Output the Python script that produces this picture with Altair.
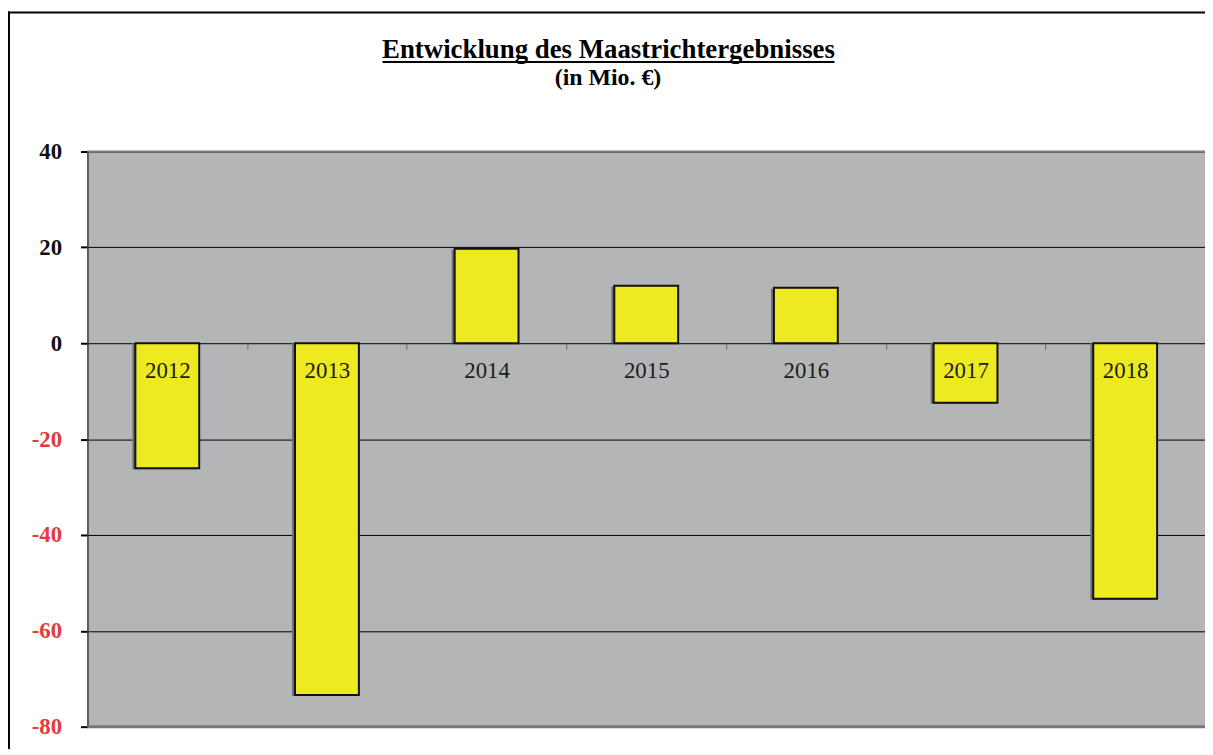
import altair as alt
import pandas as pd

years = ["2012", "2013", "2014", "2015", "2016", "2017", "2018"]
values = [-26.1, -73.4, 19.7, 12.0, 11.6, -12.4, -53.3]
y_ticks = [40, 20, 0, -20, -40, -60, -80]
title_text = "Entwicklung des Maastrichtergebnisses"
subtitle_text = "(in Mio. €)"

df = pd.DataFrame({"Jahr": years, "Wert": values})
one = pd.DataFrame({"k": [0]})

W, H = 1125, 579
FONT = "Liberation Serif"
step = W / 7.0

x_enc = alt.X(
    "Jahr:N",
    sort=years,
    scale=alt.Scale(paddingInner=0.6, paddingOuter=0.3),
    axis=alt.Axis(
        title=None, orient="bottom", offset=-386, domain=False,
        ticks=True, tickSize=6, tickColor="#666666", tickWidth=1,
        tickOffset=step / 2, labelOffset=-step / 2,
        labelAngle=0, labelFont=FONT, labelFontSize=23, labelColor="#1c1c1c",
        labelPadding=10, labelBaseline="top", zindex=1, grid=False,
    ),
)
y_enc = alt.Y(
    "Wert:Q",
    scale=alt.Scale(domain=[-80, 40], nice=False, zero=False),
    axis=alt.Axis(
        title=None, values=y_ticks, grid=True, gridColor="black", gridWidth=1,
        domain=True, domainColor="#3a3a3a", domainWidth=1.5,
        tickSize=7, tickColor="black", tickWidth=2,
        labelFont=FONT, labelFontSize=23, labelFontWeight="bold",
        labelPadding=19,
        labelExpr="'' + datum.value",
        labelColor=alt.expr("datum.value < 0 ? '#e53a3a' : '#111111'"),
        zindex=0,
    ),
)

base = alt.Chart(df)
shadow = base.mark_bar(color="#6f7075", xOffset=-3, yOffset=1).encode(x=x_enc, y=y_enc, y2=alt.datum(0))
bars = base.mark_bar(color="#eeea22", stroke="#111111", strokeWidth=2).encode(
    x=x_enc, y=y_enc, y2=alt.datum(0)
)

top_line = alt.Chart(one).mark_rule(color="#7b7c80", strokeWidth=2).encode(y=alt.datum(40))
bottom_line = alt.Chart(one).mark_rule(color="#76777a", strokeWidth=3).encode(y=alt.datum(-80))

border_left = alt.Chart(one).mark_rule(color="black", strokeWidth=2).encode(
    x=alt.value(-79), y=alt.value(-141), y2=alt.value(H + 40)
)
border_top = alt.Chart(one).mark_rule(color="black", strokeWidth=2).encode(
    x=alt.value(-80), x2=alt.value(W + 10), y=alt.value(-140)
)
title = alt.Chart(one).mark_text(
    font=FONT, fontSize=27, fontWeight="bold", color="black",
    align="center", baseline="alphabetic",
).encode(x=alt.value(524.5), y=alt.value(-94.5), text=alt.value(title_text))
subtitle = alt.Chart(one).mark_text(
    font=FONT, fontSize=24, fontWeight="bold", color="black",
    align="center", baseline="alphabetic",
).encode(x=alt.value(524), y=alt.value(-67), text=alt.value(subtitle_text))
underline = alt.Chart(one).mark_rule(color="black", strokeWidth=2).encode(
    x=alt.value(297), x2=alt.value(752), y=alt.value(-90)
)

chart = alt.layer(
    top_line, shadow, bars, bottom_line, border_left, border_top, title, subtitle, underline
).properties(
    width=W,
    height=H,
    autosize=alt.AutoSizeParams(type="none"),
    padding={"left": 80, "top": 142, "right": 0, "bottom": 20},
    background="white",
).configure_view(
    stroke=None, fill="#b4b5b7"
)

chart.save("out.html", embed_options={"renderer": "svg", "actions": False})
